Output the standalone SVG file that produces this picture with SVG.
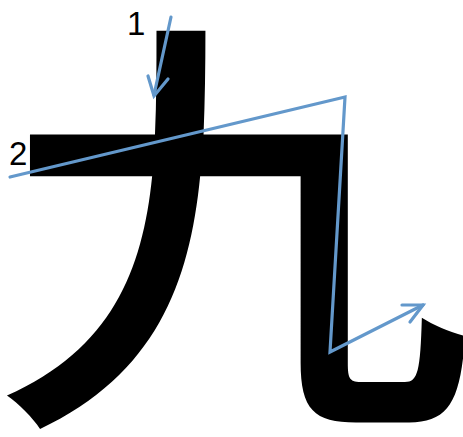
<svg xmlns="http://www.w3.org/2000/svg" width="463" height="437" viewBox="0 0 463 437">
<style>
.stroke{fill:none;stroke:#6398CB;stroke-width:3.2;stroke-linecap:round;stroke-linejoin:miter}
.num{font-family:"Liberation Sans","Open Sans",sans-serif;font-size:33px;fill:#000}
.han{font-family:"Noto Sans CJK SC","Noto Sans CJK JP",sans-serif;font-weight:500;fill:#000}
</style>
<rect width="463" height="437" fill="#fff"/>
<g id="character">
<text class="han" x="0" y="0" font-size="430" transform="translate(-7,392) scale(1.118,1.01)">九</text>
</g>
<g id="labels">
<text id="label1" class="num" x="127" y="35">1</text>
<text id="label2" class="num" x="9" y="165">2</text>
</g>
<g id="connectors">
<g id="stroke1">
<path class="stroke" d="M171,17 L154,95"/>
<path class="stroke" d="M148,76 L154,96 L168,79"/>
</g>
<g id="stroke2">
<path class="stroke" d="M10,177 L345,97 L330,352 L423,305"/>
<path class="stroke" d="M402,305 L423,305 L410,322"/>
</g>
</g>
</svg>
